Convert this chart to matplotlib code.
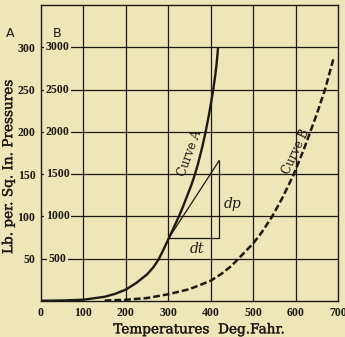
import matplotlib
matplotlib.use("Agg")
import matplotlib.pyplot as plt
import matplotlib.patheffects as pe

# Curve A: pressure (scale A, lb per sq in) against temperature (deg F)
temp_a = [0, 50, 100, 150, 175, 200, 225, 250, 265, 277, 288, 300, 313, 325, 335,
          345, 355, 363, 370, 380, 388, 395, 401, 406, 411, 414, 417]
pres_a = [0.3, 0.6, 1.5, 5, 8.5, 13.5, 21.5, 31.5, 40, 49, 60, 73, 87, 100, 112,
          125, 138, 150, 162, 182, 200, 218, 235, 250, 268, 281, 298]

# Curve B: pressure on scale B (x10)
temp_b = [150, 200, 250, 300, 350, 400, 425, 450, 469, 500, 520, 545, 570, 595,
          620, 650, 670, 689]
pres_b = [5, 15, 35, 80, 140, 240, 320, 420, 520, 680, 810, 1000, 1230, 1490,
          1800, 2210, 2510, 2860]

# tangent triangle on curve A
tan_t = [302, 420]
tan_p = [75, 166]

x_ticks = [0, 100, 200, 300, 400, 500, 600, 700]
a_ticks = [50, 100, 150, 200, 250, 300]
b_labels = ["500", "1000", "1500", "2000", "2500", "3000"]

bg = "#ede6b8"
ink = "#1c1a14"
heavy = [pe.withStroke(linewidth=0.25, foreground=ink)]

fig = plt.figure(figsize=(3.45, 3.37), dpi=100, facecolor=bg)
ax = fig.add_axes([41/345, 1-301/337, 297/345, 296/337])
ax.set_facecolor(bg)

ax.set_xlim(0, 700)
ax.set_ylim(0, 350)

# grid
for x in x_ticks[1:-1]:
    ax.axvline(x, color=ink, lw=0.9, zorder=1)
for y in a_ticks:
    ax.axhline(y, color=ink, lw=0.9, zorder=1)
for s in ax.spines.values():
    s.set_color(ink)
    s.set_linewidth(1.0)

ax.plot(temp_a, pres_a, color=ink, lw=1.7, zorder=3)
ax.plot(temp_b, [p / 10 for p in pres_b], color=ink, lw=1.8,
        dashes=(2.7, 1.2), zorder=3)

# tangent and triangle
ax.plot(tan_t, tan_p, color=ink, lw=0.9, zorder=3)
ax.plot([tan_t[0], tan_t[1], tan_t[1]], [tan_p[0], tan_p[0], tan_p[1]],
        color=ink, lw=0.9, zorder=3)

ax.text(452, 115, "dp", fontsize=10, style="italic", family="DejaVu Serif",
        ha="center", va="center", color=ink)
ax.text(368, 62, "dt", fontsize=10, style="italic", family="DejaVu Serif",
        ha="center", va="center", color=ink)
ax.text(350, 175, "Curve A", fontsize=8.5, family="DejaVu Serif", rotation=70,
        ha="center", va="center", color=ink)
ax.text(600, 176, "Curve B", fontsize=8.5, family="DejaVu Serif", rotation=65,
        ha="center", va="center", color=ink)

# ticks
ax.tick_params(length=0, pad=4)
ax.set_xticks(x_ticks)
ax.set_xticklabels([str(t) for t in x_ticks], fontsize=8.5,
                   family="Liberation Serif", weight="bold", color=ink)
ax.set_yticks(a_ticks)
ax.set_yticklabels([str(t) for t in a_ticks], fontsize=8.5,
                   family="Liberation Serif", weight="bold", color=ink)

# scale B labels inside the plot
for y, lab in zip(a_ticks, b_labels):
    ax.text(39, y, lab, fontsize=8.5, family="Liberation Serif", weight="bold",
            ha="center", va="center", color=ink, zorder=4,
            bbox=dict(boxstyle="square,pad=0.1", fc=bg, ec="none"))

ax.text(-73, 316, "A", fontsize=9, family="DejaVu Sans", ha="center",
        va="center", color=ink, clip_on=False)
ax.text(38, 316, "B", fontsize=9, family="DejaVu Sans", ha="center",
        va="center", color=ink, clip_on=False)

ax.set_xlabel("Temperatures  Deg.Fahr.", fontsize=9.8, family="DejaVu Serif",
              color=ink, path_effects=heavy)
ax.xaxis.set_label_coords(0.532, -0.072)
ax.set_ylabel("Lb. per. Sq. In. Pressures", fontsize=9.8, family="DejaVu Serif",
              color=ink, path_effects=heavy)
ax.yaxis.set_label_coords(-0.087, 0.453)

fig.savefig("out.png", dpi=100, facecolor=bg)
